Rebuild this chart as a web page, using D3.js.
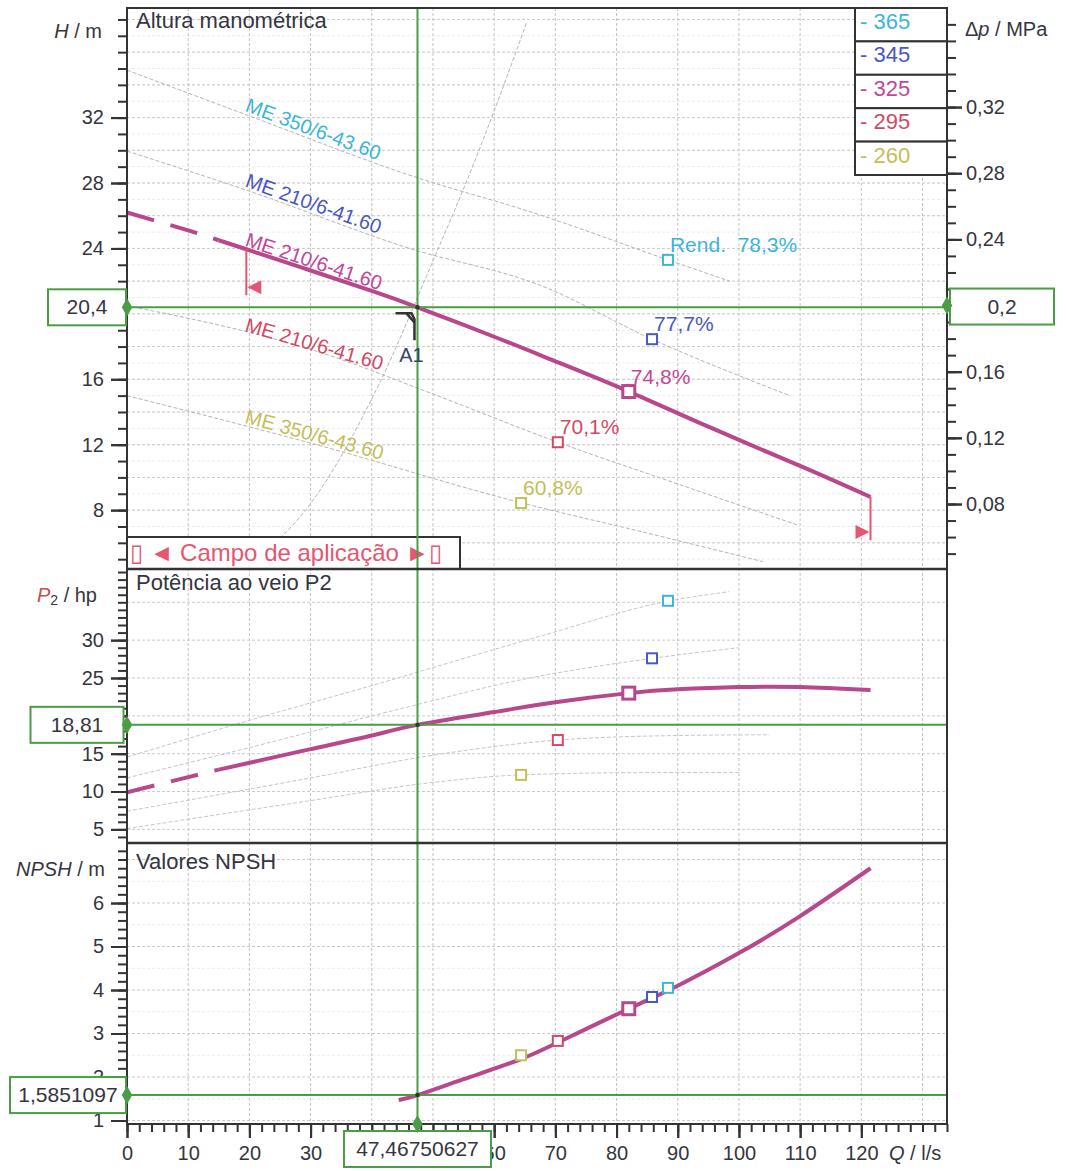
<!DOCTYPE html>
<html>
<head>
<meta charset="utf-8">
<script src="https://cdn.jsdelivr.net/npm/d3@7"></script>
<style>
  body { margin: 0; background: #fff; }
  svg text { font-family: "Liberation Sans", Arial, Helvetica, sans-serif; }
</style>
</head>
<body>
<svg id="chart" width="1066" height="1171"></svg>
<script>
// Pump curve sheet: head, shaft power and NPSH against flow

// --- operating point A1 ---
const opQ = 47.46750627;
const opH = 20.4;
const opDp = 0.2;
const opP = 18.81;
const opNpsh = 1.5851097;

// --- selected impeller (325) ---
const headQ = [0, 10, 15, 19.5, 30, 40, 47.47, 60, 70, 82, 95, 110, 121.5];
const headH = [26.2, 25.1, 24.5, 23.95, 22.65, 21.4, 20.4, 18.6, 17.1, 15.25, 13.1, 10.7, 8.8];
const powerQ = [0, 10, 15, 19.5, 30, 40, 47.47, 60, 70, 82, 90, 100, 110, 121.5];
const powerP = [9.9, 11.9, 12.9, 13.7, 15.6, 17.4, 18.81, 20.5, 21.8, 23.0, 23.5, 23.8, 23.8, 23.4];
const npshQ = [44.4, 47.47, 55, 64, 70.5, 82, 90, 100, 110, 121.5];
const npshM = [1.47, 1.585, 1.95, 2.39, 2.8, 3.57, 4.1, 4.85, 5.7, 6.8];
const dashedUntilQ = 15;
const campoQ = [19.5, 121.5];

// --- other impeller diameters (light curves) ---
const head365Q = [0, 20, 46, 67.5, 88.4, 98.5];
const head365H = [34.9, 32.1, 28.5, 26.05, 23.3, 22.0];
const head345Q = [0, 20, 46.2, 67.5, 85.8, 108.3];
const head345H = [29.95, 27.5, 24.0, 21.75, 18.45, 15.0];
const head295Q = [0, 31.5, 50, 70.4, 90, 109.5];
const head295H = [20.5, 17.65, 15.1, 12.15, 9.6, 7.1];
const head260Q = [0, 30, 64.4, 85, 103.9];
const head260H = [15.0, 12.1, 8.45, 6.6, 4.85];
const systemQ = [20.6, 30, 41.35, 49.5, 57, 65.4];
const systemH = [4.83, 8.4, 15.83, 22.8, 29.5, 37.9];

const power365Q = [0, 20, 40, 67, 88.7, 98.4];
const power365P = [14.55, 19.4, 24.0, 30.4, 35.2, 36.4];
const power345Q = [0, 20, 45, 64, 85.8, 100];
const power345P = [11.8, 15.8, 21.0, 24.7, 27.6, 29.0];
const power295Q = [0, 30, 50, 70.4, 90, 105];
const power295P = [7.4, 11.8, 14.8, 16.8, 17.4, 17.5];
const power260Q = [0, 30, 50, 64.4, 85, 100];
const power260P = [5.1, 8.8, 11.2, 12.2, 12.5, 12.5];

// --- best efficiency points per diameter ---
const diameters = ["365", "345", "325", "295", "260"];
const diamColors = ["#3db4da", "#4957c2", "#c2469a", "#d24a62", "#c4be58"];
const modelLabels = ["ME 350/6-43.60", "ME 210/6-41.60", "ME 210/6-41.60", "ME 210/6-41.60", "ME 350/6-43.60"];
const bepQ = [88.4, 85.8, 82.0, 70.4, 64.4];
const bepH = [23.3, 18.45, 15.25, 12.15, 8.43];
const bepP = [35.2, 27.6, 23.0, 16.8, 12.2];
const bepNpsh = [4.05, 3.84, 3.57, 2.83, 2.5];
const bepLabels = ["Rend.  78,3%", "77,7%", "74,8%", "70,1%", "60,8%"];

// --- ticks (labels that sit fully under a value box are left out) ---
const qMajor = d3.range(0, 121, 10);
const qLabelled = qMajor.filter(v => v !== 40 && v !== 50);
const qMinor = d3.range(0, 135, 2);
const hMajor = [8, 12, 16, 20, 24, 28, 32];
const hLabelled = [8, 12, 16, 24, 28, 32];
const hMinor = d3.range(5, 39, 1);
const dpMajor = [0.08, 0.12, 0.16, 0.2, 0.24, 0.28, 0.32];
const dpLabelled = [0.08, 0.12, 0.16, 0.24, 0.28, 0.32];
const dpMinor = d3.range(5, 38, 1).map(v => v / 100);
const pMajor = [5, 10, 15, 20, 25, 30];
const pMinor = d3.range(4, 40, 1);
const nMajor = [1, 2, 3, 4, 5, 6];
const nMinor = d3.range(5, 37, 1).map(v => v / 5);

// --- layout ---
const plotL = 127, plotR = 947;
const topY0 = 8, topY1 = 569, midY1 = 843, botY1 = 1124;
const FONT = 20;
const GREEN = "#4a9c45";
const MAIN = "#b8478c";
const CAMPO = "#e65670";
const INK = "#35353f";

const locale = d3.formatLocale({ decimal: ",", thousands: ".", grouping: [3], currency: ["", "€"] });
const fmt2 = locale.format(".2f");

const x = d3.scaleLinear().domain([0, 134]).range([plotL, plotR]);
const yH = d3.scaleLinear().domain([4.4, 38.7]).range([topY1, topY0]);
const yDp = d3.scaleLinear().domain([0.0407, 0.3799]).range([topY1, topY0]);
const yP = d3.scaleLinear().domain([3.2, 39.4]).range([midY1, topY1]);
const yN = d3.scaleLinear().domain([0.92, 7.38]).range([botY1, midY1]);

const svg = d3.select("#chart");
svg.append("rect").attr("width", 1066).attr("height", 1171).attr("fill", "#fff");

const defs = svg.append("defs");
[["clipTop", topY0, topY1], ["clipMid", topY1, midY1], ["clipBot", midY1, botY1]].forEach(([id, a, b]) => {
    defs.append("clipPath").attr("id", id)
        .append("rect").attr("x", plotL).attr("y", a).attr("width", plotR - plotL).attr("height", b - a);
});

// --- grid ---
function drawGrid(yScale, yValues, color) {
    const g = svg.append("g")
        .attr("stroke", color)
        .attr("stroke-width", 1)
        .attr("stroke-dasharray", "3,2");
    yValues.forEach(v => {
        g.append("line").attr("x1", plotL).attr("x2", plotR)
            .attr("y1", yScale(v)).attr("y2", yScale(v));
    });
}
function drawVGrid(y0, y1) {
    const g = svg.append("g")
        .attr("stroke", "#c4c4c4")
        .attr("stroke-width", 1)
        .attr("stroke-dasharray", "3,2");
    d3.range(10, 134, 10).forEach(v => {
        g.append("line").attr("x1", x(v)).attr("x2", x(v)).attr("y1", y0).attr("y2", y1);
    });
}
drawGrid(yH, d3.range(5, 39, 1), "#ececec");
drawGrid(yH, d3.range(6, 39, 2), "#cbcbcb");
drawGrid(yP, d3.range(5, 39, 5), "#cbcbcb");
drawGrid(yN, d3.range(1.5, 7.3, 1), "#ececec");
drawGrid(yN, d3.range(1, 7.3, 1), "#cbcbcb");
drawVGrid(topY0, botY1);

// --- light curves ---
const lineFor = (yScale, curve) => d3.line()
    .x(d => x(d[0])).y(d => yScale(d[1]))
    .curve(curve || d3.curveMonotoneX);

const gTop = svg.append("g").attr("clip-path", "url(#clipTop)");
const gMid = svg.append("g").attr("clip-path", "url(#clipMid)");
const gBot = svg.append("g").attr("clip-path", "url(#clipBot)");

const headFamily = [
    [head365Q, head365H], [head345Q, head345H], [headQ, headH], [head295Q, head295H], [head260Q, head260H]
];
headFamily.forEach(([q, h], i) => {
    if (i === 2) return;
    gTop.append("path")
        .datum(d3.zip(q, h))
        .attr("d", lineFor(yH))
        .attr("fill", "none")
        .attr("stroke", "#b4b4b4")
        .attr("stroke-width", 1)
        .attr("stroke-dasharray", "4,2");
});
gTop.append("path")
    .datum(d3.zip(systemQ, systemH))
    .attr("d", lineFor(yH))
    .attr("fill", "none")
    .attr("stroke", "#b4b4b4")
    .attr("stroke-width", 1)
    .attr("stroke-dasharray", "4,2");

[[power365Q, power365P], [power345Q, power345P], [power295Q, power295P], [power260Q, power260P]].forEach(([q, p]) => {
    gMid.append("path")
        .datum(d3.zip(q, p))
        .attr("d", lineFor(yP))
        .attr("fill", "none")
        .attr("stroke", "#c6c6c6")
        .attr("stroke-width", 1)
        .attr("stroke-dasharray", "4,2");
});

// model labels along each head curve
headFamily.forEach(([q, h], i) => {
    const interp = d3.scaleLinear().domain(q).range(h);
    const q0 = 19, q1 = 39;
    const px0 = x(q0), py0 = yH(interp(q0));
    const ang = Math.atan2(yH(interp(q1)) - py0, x(q1) - px0) * 180 / Math.PI;
    gTop.append("text")
        .attr("transform", `translate(${px0},${py0}) rotate(${ang})`)
        .attr("dy", -3)
        .attr("font-size", FONT)
        .attr("fill", diamColors[i])
        .text(modelLabels[i]);
});

// --- main curves (dashed below campo de aplicação) ---
function mainCurve(g, q, v, yScale) {
    const pts = d3.zip(q, v);
    g.append("path")
        .datum(pts.filter(d => d[0] <= dashedUntilQ))
        .attr("d", lineFor(yScale, d3.curveNatural))
        .attr("fill", "none")
        .attr("stroke", MAIN)
        .attr("stroke-width", 4)
        .attr("stroke-dasharray", "28,17");
    g.append("path")
        .datum(pts.filter(d => d[0] >= dashedUntilQ))
        .attr("d", lineFor(yScale, d3.curveNatural))
        .attr("fill", "none")
        .attr("stroke", MAIN)
        .attr("stroke-width", 4);
}
mainCurve(gTop, headQ, headH, yH);
mainCurve(gMid, powerQ, powerP, yP);
gBot.append("path")
    .datum(d3.zip(npshQ, npshM))
    .attr("d", lineFor(yN, d3.curveNatural))
    .attr("fill", "none")
    .attr("stroke", MAIN)
    .attr("stroke-width", 4);

// campo de aplicação markers
const headAt = d3.scaleLinear().domain(headQ).range(headH);
campoQ.forEach((q, i) => {
    const cx = x(q), cy = yH(headAt(q));
    const len = i === 0 ? 46 : 43;
    gTop.append("line")
        .attr("x1", cx).attr("x2", cx)
        .attr("y1", cy).attr("y2", cy + len)
        .attr("stroke", CAMPO).attr("stroke-width", 2);
    const ty = cy + len - 8;
    const tri = i === 0
        ? `M${cx + 1},${ty} L${cx + 15},${ty - 7} L${cx + 15},${ty + 7} Z`
        : `M${cx - 1},${ty} L${cx - 15},${ty - 7} L${cx - 15},${ty + 7} Z`;
    gTop.append("path").attr("d", tri).attr("fill", CAMPO);
});

// --- best efficiency squares ---
function drawSquares(g, vals, yScale, withLabels) {
    bepQ.forEach((q, i) => {
        const big = i === 2;
        const s = big ? 12 : 10;
        const cx = x(q), cy = yScale(vals[i]);
        g.append("rect")
            .attr("x", cx - s / 2).attr("y", cy - s / 2)
            .attr("width", s).attr("height", s)
            .attr("fill", "#fff")
            .attr("stroke", big ? MAIN : diamColors[i])
            .attr("stroke-width", big ? 3 : 2);
        if (withLabels) {
            g.append("text")
                .attr("x", cx + 2)
                .attr("y", cy - 8)
                .attr("font-size", 21)
                .attr("fill", diamColors[i])
                .style("white-space", "pre")
                .text(bepLabels[i]);
        }
    });
}
drawSquares(gTop, bepH, yH, true);
drawSquares(gMid, bepP, yP, false);
drawSquares(gBot, bepNpsh, yN, false);

// campo de aplicação box
const campo = svg.append("g");
campo.append("rect")
    .attr("x", plotL).attr("y", topY1 - 32)
    .attr("width", 333).attr("height", 32)
    .attr("fill", "#fff").attr("stroke", "#333").attr("stroke-width", 2);
campo.append("text")
    .attr("x", plotL + 3).attr("y", topY1 - 8)
    .attr("font-size", 24)
    .attr("fill", CAMPO)
    .style("white-space", "pre")
    .text("▯ ◄ Campo de aplicação ►▯");

// --- operating point lines ---
const green = svg.append("g").attr("stroke", GREEN).attr("stroke-width", 2);
green.append("line").attr("x1", x(opQ)).attr("x2", x(opQ)).attr("y1", topY0).attr("y2", botY1);
green.append("line").attr("x1", plotL).attr("x2", plotR).attr("y1", yH(opH)).attr("y2", yH(opH));
green.append("line").attr("x1", plotL).attr("x2", plotR).attr("y1", yP(opP)).attr("y2", yP(opP));
green.append("line").attr("x1", plotL).attr("x2", plotR).attr("y1", yN(opNpsh)).attr("y2", yN(opNpsh));

[[opH, yH], [opP, yP], [opNpsh, yN]].forEach(([v, s]) => {
    svg.append("circle").attr("cx", x(opQ)).attr("cy", s(v)).attr("r", 2.2).attr("fill", "#333");
});

// A1 marker
const ax = x(opQ), ay = yH(opH);
svg.append("path")
    .attr("d", `M${ax - 22},${ay + 6} H${ax - 6} L${ax - 3},${ay + 12} V${ay + 33}`)
    .attr("fill", "none").attr("stroke", "#333").attr("stroke-width", 2.5);
svg.append("path")
    .attr("d", `M${ax - 11},${ay + 6} L${ax - 3},${ay + 15}`)
    .attr("fill", "none").attr("stroke", "#333").attr("stroke-width", 2.5);
svg.append("text")
    .attr("x", ax - 6).attr("y", ay + 55)
    .attr("text-anchor", "middle")
    .attr("font-size", FONT)
    .attr("fill", "#3a4360")
    .text("A1");

// --- frame ---
const frame = svg.append("g").attr("stroke", "#333").attr("fill", "none");
frame.append("rect")
    .attr("x", plotL).attr("y", topY0)
    .attr("width", plotR - plotL).attr("height", botY1 - topY0)
    .attr("stroke-width", 2);
[topY1, midY1].forEach(y => {
    frame.append("line").attr("x1", plotL).attr("x2", plotR).attr("y1", y).attr("y2", y).attr("stroke-width", 2.5);
});

// panel titles
[["Altura manométrica", topY0 + 20], ["Potência ao veio P2", topY1 + 21], ["Valores NPSH", midY1 + 26]].forEach(([t, y]) => {
    svg.append("text")
        .attr("x", plotL + 9).attr("y", y)
        .attr("font-size", 22)
        .attr("fill", INK)
        .text(t);
});

// --- legend (impeller diameters) ---
const legRowH = 33.4;
const leg = svg.append("g");
diameters.forEach((d, i) => {
    const y0 = topY0 + i * legRowH;
    leg.append("rect")
        .attr("x", 855).attr("y", y0)
        .attr("width", plotR - 855).attr("height", legRowH)
        .attr("fill", "#fff").attr("stroke", "#333").attr("stroke-width", 2);
    leg.append("text")
        .attr("x", 860).attr("y", y0 + 21)
        .attr("font-size", 22)
        .attr("fill", diamColors[i])
        .text("- " + d);
});

// --- axes ---
function styleAxis(g) {
    g.select(".domain").remove();
    g.selectAll(".tick line").attr("stroke", "#333").attr("stroke-width", 2);
    g.selectAll(".tick text").attr("font-size", FONT).attr("fill", INK)
        .attr("font-family", "Liberation Sans, Arial, sans-serif");
}
function leftAxis(scale, major, labelled, minor) {
    svg.append("g").attr("transform", `translate(${plotL},0)`)
        .call(d3.axisLeft(scale).tickValues(minor).tickSize(9).tickFormat(""))
        .call(styleAxis);
    svg.append("g").attr("transform", `translate(${plotL},0)`)
        .call(d3.axisLeft(scale).tickValues(major).tickSize(16).tickFormat(""))
        .call(styleAxis);
    svg.append("g").attr("transform", `translate(${plotL},0)`)
        .call(d3.axisLeft(scale).tickValues(labelled).tickSize(16).tickPadding(7).tickFormat(d3.format("d")))
        .call(styleAxis);
}
leftAxis(yH, hMajor, hLabelled, hMinor);
leftAxis(yP, pMajor, pMajor, pMinor);
leftAxis(yN, nMajor, nMajor, nMinor);

svg.append("g").attr("transform", `translate(${plotR},0)`)
    .call(d3.axisRight(yDp).tickValues(dpMinor).tickSize(9).tickFormat(""))
    .call(styleAxis);
svg.append("g").attr("transform", `translate(${plotR},0)`)
    .call(d3.axisRight(yDp).tickValues(dpMajor).tickSize(15).tickFormat(""))
    .call(styleAxis);
svg.append("g").attr("transform", `translate(${plotR},0)`)
    .call(d3.axisRight(yDp).tickValues(dpLabelled).tickSize(15).tickPadding(4).tickFormat(fmt2))
    .call(styleAxis);

svg.append("g").attr("transform", `translate(0,${botY1})`)
    .call(d3.axisBottom(x).tickValues(qMinor).tickSize(8).tickFormat(""))
    .call(styleAxis);
svg.append("g").attr("transform", `translate(0,${botY1})`)
    .call(d3.axisBottom(x).tickValues(qMajor).tickSize(14).tickFormat(""))
    .call(styleAxis);
svg.append("g").attr("transform", `translate(0,${botY1})`)
    .call(d3.axisBottom(x).tickValues(qLabelled).tickSize(14).tickPadding(8).tickFormat(d3.format("d")))
    .call(styleAxis);

// axis titles
function axisTitle(xPos, yPos, italic, rest, anchor) {
    const t = svg.append("text")
        .attr("x", xPos).attr("y", yPos)
        .attr("text-anchor", anchor)
        .attr("font-size", FONT)
        .attr("fill", INK)
        .style("white-space", "pre");
    t.append("tspan").attr("font-style", "italic").text(italic);
    t.append("tspan").text(rest);
    return t;
}
axisTitle(102, 38, "H", " / m", "end");
const pTitle = svg.append("text")
    .attr("x", 97).attr("y", 602)
    .attr("text-anchor", "end")
    .attr("font-size", FONT)
    .attr("fill", INK)
    .style("white-space", "pre");
pTitle.append("tspan").attr("font-style", "italic").attr("fill", "#c0504a").text("P");
pTitle.append("tspan").attr("font-size", 14).attr("dy", 3).text("2");
pTitle.append("tspan").attr("dy", -3).text(" / hp");
axisTitle(105, 876, "NPSH", " / m", "end");
axisTitle(889, 1160, "Q", " / l/s", "start");
const dpTitle = svg.append("text")
    .attr("x", 965).attr("y", 36)
    .attr("font-size", FONT)
    .attr("fill", INK)
    .style("white-space", "pre");
dpTitle.append("tspan").text("Δ");
dpTitle.append("tspan").attr("font-style", "italic").text("p");
dpTitle.append("tspan").text(" / MPa");

// --- operating point value boxes ---
function valueBox(cx, cy, w, label) {
    const g = svg.append("g");
    g.append("rect")
        .attr("x", cx - w / 2).attr("y", cy - 18)
        .attr("width", w).attr("height", 36)
        .attr("fill", "#fff").attr("stroke", GREEN).attr("stroke-width", 2);
    g.append("text")
        .attr("x", cx).attr("y", cy + 7)
        .attr("text-anchor", "middle")
        .attr("font-size", 21)
        .attr("fill", INK)
        .text(label);
}
const decFmt = v => String(v).replace(".", ",");
valueBox(87, yH(opH), 78, decFmt(opH));
valueBox(1002, yDp(opDp) + 1, 104, locale.format(".1f")(opDp));
valueBox(77, yP(opP), 93, decFmt(opP));
valueBox(68, yN(opNpsh), 116, decFmt(opNpsh));
valueBox(x(opQ), botY1 + 25, 147, decFmt(opQ));

// green diamonds on the axes
const diamond = d3.symbol().type(d3.symbolDiamond).size(95);
[[plotL, yH(opH)], [plotR, yDp(opDp)], [plotL, yP(opP)], [plotL, yN(opNpsh)], [x(opQ), botY1]].forEach(([dx, dy]) => {
    svg.append("path")
        .attr("d", diamond())
        .attr("transform", `translate(${dx},${dy})`)
        .attr("fill", GREEN);
});
</script>
</body>
</html>
